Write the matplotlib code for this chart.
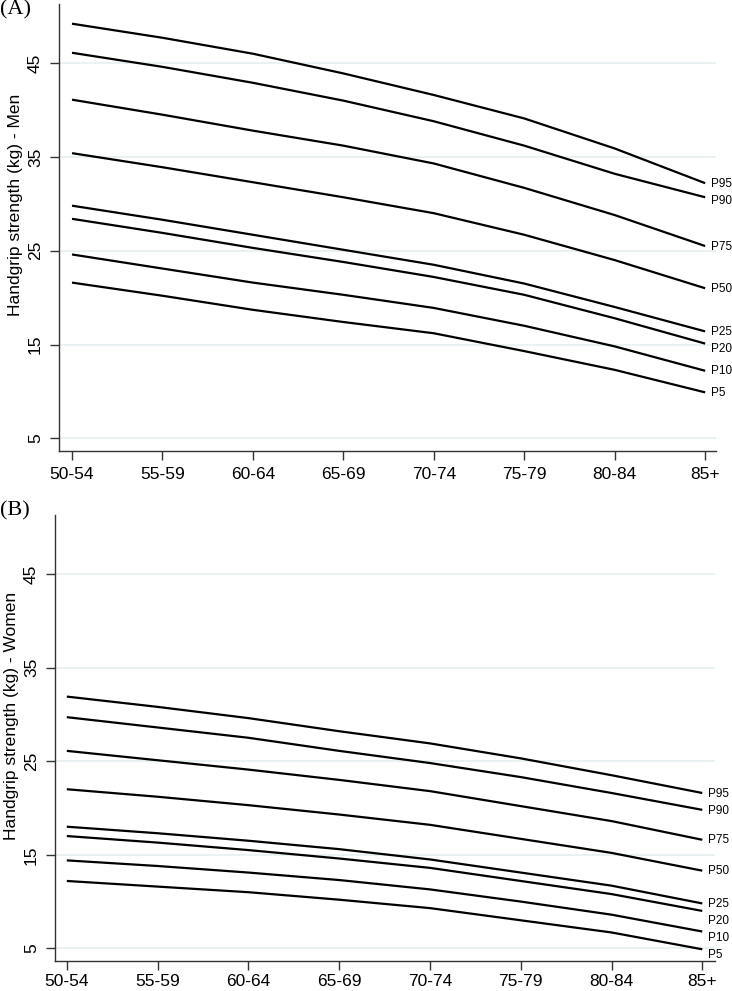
import matplotlib
matplotlib.use("Agg")
import matplotlib.pyplot as plt

# grupos de edad y percentiles
ages = ["50-54", "55-59", "60-64", "65-69", "70-74", "75-79", "80-84", "85+"]
pct_names = ["P95", "P90", "P75", "P50", "P25", "P20", "P10", "P5"]

# (A) hombres
men_p95 = [49.2, 47.7, 46.0, 43.9, 41.6, 39.1, 35.9, 32.2]
men_p90 = [46.1, 44.6, 42.9, 41.0, 38.8, 36.2, 33.2, 30.7]
men_p75 = [41.1, 39.5, 37.8, 36.2, 34.3, 31.7, 28.8, 25.5]
men_p50 = [35.4, 33.9, 32.3, 30.7, 29.0, 26.7, 24.0, 21.0]
men_p25 = [29.8, 28.3, 26.7, 25.1, 23.5, 21.5, 19.0, 16.4]
men_p20 = [28.4, 26.9, 25.3, 23.8, 22.2, 20.3, 17.8, 15.1]
men_p10 = [24.6, 23.1, 21.6, 20.3, 18.9, 17.0, 14.8, 12.2]
men_p5 = [21.6, 20.2, 18.7, 17.4, 16.2, 14.3, 12.3, 9.9]

# (B) mujeres
women_p95 = [31.9, 30.8, 29.6, 28.2, 26.9, 25.3, 23.5, 21.6]
women_p90 = [29.7, 28.6, 27.5, 26.1, 24.8, 23.3, 21.6, 19.8]
women_p75 = [26.1, 25.1, 24.1, 23.0, 21.8, 20.2, 18.6, 16.6]
women_p50 = [22.0, 21.2, 20.3, 19.3, 18.2, 16.7, 15.2, 13.3]
women_p25 = [18.0, 17.3, 16.5, 15.6, 14.5, 13.1, 11.7, 9.8]
women_p20 = [17.0, 16.3, 15.5, 14.6, 13.6, 12.2, 10.8, 9.0]
women_p10 = [14.4, 13.8, 13.1, 12.3, 11.3, 10.0, 8.6, 6.8]
women_p5 = [12.2, 11.6, 11.0, 10.2, 9.3, 8.0, 6.7, 4.9]

yticks = [5, 15, 25, 35, 45]

men = [men_p95, men_p90, men_p75, men_p50, men_p25, men_p20, men_p10, men_p5]
women = [women_p95, women_p90, women_p75, women_p50,
         women_p25, women_p20, women_p10, women_p5]

SANS = ['Liberation Sans', 'DejaVu Sans']
plt.rcParams['font.family'] = SANS

fig = plt.figure(figsize=(7.32, 9.91), dpi=100)


def spread(vals, gap):
    # separa las etiquetas para que no se pisen (de arriba hacia abajo)
    out = list(vals)
    for i in range(1, len(out)):
        if out[i - 1] - out[i] < gap:
            out[i] = out[i - 1] - gap
    return out


def panel(rect, series, ylabel, tag, tag_y, xlim, xpad):
    ax = fig.add_axes(rect)
    x = list(range(len(ages)))
    ends = [s[-1] for s in series]
    label_y = spread(ends, 1.8)
    for s, name, ly in zip(series, pct_names, label_y):
        ax.plot(x, s, color='black', lw=1.6, solid_capstyle='butt')
        ax.annotate(name, (x[-1], ly), xytext=(4, -0.5),
                    textcoords='offset points', fontsize=8.5,
                    family=SANS, va='center', ha='left',
                    annotation_clip=False)
    ax.set_xlim(*xlim)
    ax.set_ylim(3.65, 51.3)
    ax.set_xticks(x)
    ax.set_xticklabels(ages, fontsize=12.5, family=SANS)
    ax.set_yticks(yticks)
    ax.set_yticklabels([str(v) for v in yticks], fontsize=12.5,
                       family=SANS, rotation=90, va='center')
    for v in yticks:
        ax.axhline(v, color='#e6eff1', lw=1.2, zorder=0)
    for side in ['top', 'right']:
        ax.spines[side].set_visible(False)
    for side in ['left', 'bottom']:
        ax.spines[side].set_color('#333333')
        ax.spines[side].set_linewidth(1.0)
    ax.tick_params(direction='out', length=6.5, width=1, color='#333333',
                   pad=5)
    ax.tick_params(axis='x', pad=xpad)
    ax.set_ylabel(ylabel, fontsize=12.5, family=SANS)
    ax.yaxis.set_label_coords(-0.055, 0.55)
    fig.text(0.0, tag_y, tag, family='Liberation Serif', fontsize=16,
             va='top', ha='left')
    return ax


panel([59 / 732, 1 - 451 / 991, (716 - 59) / 732, 447 / 991],
      men, "Handgrip strength (kg) - Men", "(A)", 1.0, (-0.144, 7.12), 5)
panel([55 / 732, 1 - 961 / 991, (715 - 55) / 732, 446 / 991],
      women, "Handgrip strength (kg) - Women", "(B)", 1 - 501 / 991,
      (-0.13, 7.14), 2.5)

fig.savefig("out.png", dpi=100)
